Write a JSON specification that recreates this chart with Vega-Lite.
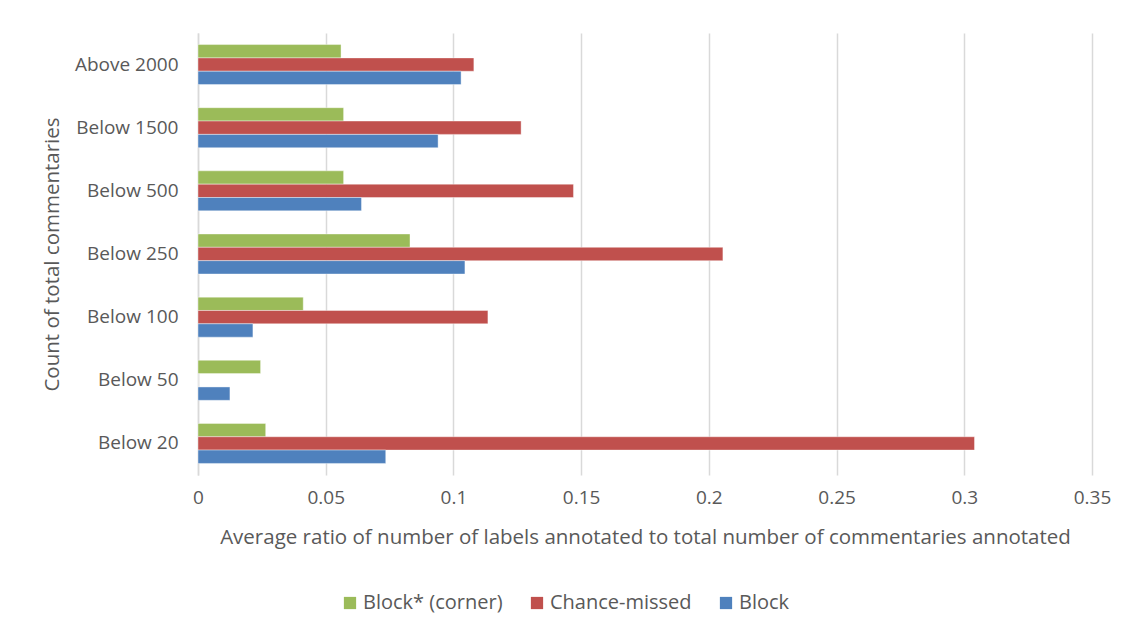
{
  "$schema": "https://vega.github.io/schema/vega-lite/v6.json",
  "autosize": {"type": "none"},
  "padding": {"left": 198, "top": 33, "right": 38, "bottom": 160},
  "width": 894,
  "height": 442,
  "background": "white",
  "config": {
    "font": "Open Sans",
    "view": {"stroke": null},
    "axis": {
      "labelColor": "#595959",
      "titleColor": "#595959",
      "labelFontSize": 19,
      "titleFontSize": 20.5,
      "labelFont": "Open Sans",
      "titleFont": "Open Sans",
      "titleFontWeight": "normal",
      "ticks": false,
      "gridColor": "#D9D9D9",
      "gridWidth": 1.5
    },
    "legend": {
      "labelColor": "#595959",
      "labelFontSize": 20,
      "labelFont": "Open Sans"
    }
  },
  "data": {
    "values": [
      {"group": "Above 2000", "series": "Block* (corner)", "ratio": 0.056},
      {"group": "Above 2000", "series": "Chance-missed", "ratio": 0.108},
      {"group": "Above 2000", "series": "Block", "ratio": 0.103},
      {"group": "Below 1500", "series": "Block* (corner)", "ratio": 0.057},
      {"group": "Below 1500", "series": "Chance-missed", "ratio": 0.1265},
      {"group": "Below 1500", "series": "Block", "ratio": 0.094},
      {"group": "Below 500", "series": "Block* (corner)", "ratio": 0.057},
      {"group": "Below 500", "series": "Chance-missed", "ratio": 0.147},
      {"group": "Below 500", "series": "Block", "ratio": 0.064},
      {"group": "Below 250", "series": "Block* (corner)", "ratio": 0.083},
      {"group": "Below 250", "series": "Chance-missed", "ratio": 0.2055},
      {"group": "Below 250", "series": "Block", "ratio": 0.1045},
      {"group": "Below 100", "series": "Block* (corner)", "ratio": 0.0412},
      {"group": "Below 100", "series": "Chance-missed", "ratio": 0.1135},
      {"group": "Below 100", "series": "Block", "ratio": 0.0215},
      {"group": "Below 50", "series": "Block* (corner)", "ratio": 0.0245},
      {"group": "Below 50", "series": "Chance-missed", "ratio": 0},
      {"group": "Below 50", "series": "Block", "ratio": 0.0125},
      {"group": "Below 20", "series": "Block* (corner)", "ratio": 0.0265},
      {"group": "Below 20", "series": "Chance-missed", "ratio": 0.304},
      {"group": "Below 20", "series": "Block", "ratio": 0.0735}
    ]
  },
  "mark": {"type": "bar", "stroke": "#ffffff", "strokeOpacity": 0.5, "strokeWidth": 0.8},
  "encoding": {
    "y": {
      "field": "group",
      "type": "nominal",
      "sort": ["Above 2000", "Below 1500", "Below 500", "Below 250", "Below 100", "Below 50", "Below 20"],
      "scale": {"paddingInner": 0.366, "paddingOuter": 0.183},
      "axis": {
        "title": "Count of total commentaries",
        "titlePadding": 12,
        "labelPadding": 20,
        "domainColor": "#D9D9D9",
        "domainWidth": 1.5
      }
    },
    "yOffset": {
      "field": "series",
      "type": "nominal",
      "sort": ["Block* (corner)", "Chance-missed", "Block"]
    },
    "x": {
      "field": "ratio",
      "type": "quantitative",
      "scale": {"domain": [0, 0.35], "nice": false},
      "axis": {
        "title": "Average ratio of number of labels annotated to total number of commentaries annotated",
        "values": [0, 0.05, 0.1, 0.15, 0.2, 0.25, 0.3, 0.35],
        "format": "~g",
        "labelFlush": false,
        "labelPadding": 13,
        "titlePadding": 20,
        "domain": false,
        "grid": true
      }
    },
    "color": {
      "field": "series",
      "type": "nominal",
      "sort": ["Block* (corner)", "Chance-missed", "Block"],
      "scale": {
        "domain": ["Block* (corner)", "Chance-missed", "Block"],
        "range": ["#9BBB59", "#C0504D", "#4F81BD"]
      },
      "legend": {
        "title": null,
        "orient": "none",
        "legendX": 142,
        "legendY": 560,
        "direction": "horizontal",
        "symbolType": "square",
        "symbolSize": 150,
        "symbolStrokeWidth": 0,
        "columnPadding": 24,
        "labelOffset": 3
      }
    }
  }
}
